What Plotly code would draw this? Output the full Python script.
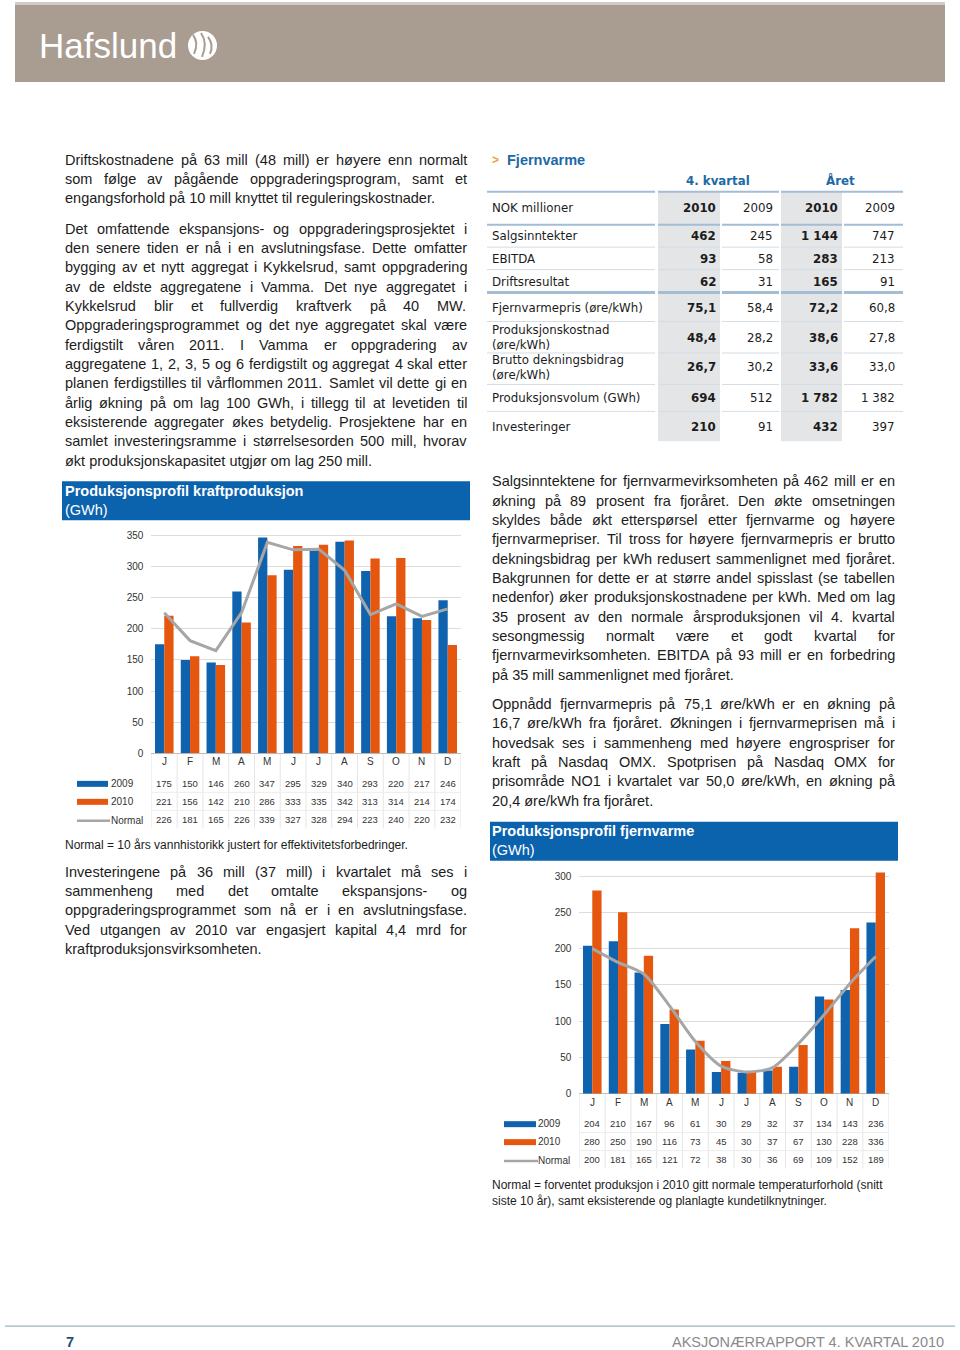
import plotly.graph_objects as go

# ---------------- data ----------------
months = ["J", "F", "M", "A", "M", "J", "J", "A", "S", "O", "N", "D"]
kraft_2009 = [175, 150, 146, 260, 347, 295, 329, 340, 293, 220, 217, 246]
kraft_2010 = [221, 156, 142, 210, 286, 333, 335, 342, 313, 314, 214, 174]
kraft_normal = [226, 181, 165, 226, 339, 327, 328, 294, 223, 240, 220, 232]
fjv_2009 = [204, 210, 167, 96, 61, 30, 29, 32, 37, 134, 143, 236]
fjv_2010 = [280, 250, 190, 116, 73, 45, 30, 37, 67, 130, 228, 336]
fjv_normal = [200, 181, 165, 121, 72, 38, 30, 36, 69, 109, 152, 189]
series_names = ["2009", "2010", "Normal"]

table_head = ["NOK millioner", "2010", "2009", "2010", "2009"]
table_labels = [["Salgsinntekter"], ["EBITDA"], ["Driftsresultat"],
                ["Fjernvarmepris (øre/kWh)"], ["Produksjonskostnad", "(øre/kWh)"],
                ["Brutto dekningsbidrag", "(øre/kWh)"], ["Produksjonsvolum (GWh)"],
                ["Investeringer"]]
q4_2010 = ["462", "93", "62", "75,1", "48,4", "26,7", "694", "210"]
q4_2009 = ["245", "58", "31", "58,4", "28,2", "30,2", "512", "91"]
yr_2010 = ["1 144", "283", "165", "72,2", "38,6", "33,6", "1 782", "432"]
yr_2009 = ["747", "213", "91", "60,8", "27,8", "33,0", "1 382", "397"]

left_p1 = ["Driftskostnadene på 63 mill (48 mill) er høyere enn normalt",
           "som følge av pågående oppgraderingsprogram, samt et",
           "engangsforhold på 10 mill knyttet til reguleringskostnader."]
left_p2 = ["Det omfattende ekspansjons- og oppgraderingsprosjektet i",
           "den senere tiden er nå i en avslutningsfase. Dette omfatter",
           "bygging av et nytt aggregat i Kykkelsrud, samt oppgradering",
           "av de eldste aggregatene i Vamma. Det nye aggregatet i",
           "Kykkelsrud blir et fullverdig kraftverk på 40 MW.",
           "Oppgraderingsprogrammet og det nye aggregatet skal være",
           "ferdigstilt våren 2011. I Vamma er oppgradering av",
           "aggregatene 1, 2, 3, 5 og 6 ferdigstilt og aggregat 4 skal etter",
           "planen ferdigstilles til vårflommen 2011. Samlet vil dette gi en",
           "årlig økning på om lag 100 GWh, i tillegg til at levetiden til",
           "eksisterende aggregater økes betydelig. Prosjektene har en",
           "samlet investeringsramme i størrelsesorden 500 mill, hvorav",
           "økt produksjonskapasitet utgjør om lag 250 mill."]
left_p3 = ["Investeringene på 36 mill (37 mill) i kvartalet må ses i",
           "sammenheng med det omtalte ekspansjons- og",
           "oppgraderingsprogrammet som nå er i en avslutningsfase.",
           "Ved utgangen av 2010 var engasjert kapital 4,4 mrd for",
           "kraftproduksjonsvirksomheten."]
right_p1 = ["Salgsinntektene for fjernvarmevirksomheten på 462 mill er en",
            "økning på 89 prosent fra fjoråret. Den økte omsetningen",
            "skyldes både økt etterspørsel etter fjernvarme og høyere",
            "fjernvarmepriser. Til tross for høyere fjernvarmepris er brutto",
            "dekningsbidrag per kWh redusert sammenlignet med fjoråret.",
            "Bakgrunnen for dette er at større andel spisslast (se tabellen",
            "nedenfor) øker produksjonskostnadene per kWh. Med om lag",
            "35 prosent av den normale årsproduksjonen vil 4. kvartal",
            "sesongmessig normalt være et godt kvartal for",
            "fjernvarmevirksomheten. EBITDA på 93 mill er en forbedring",
            "på 35 mill sammenlignet med fjoråret."]
right_p2 = ["Oppnådd fjernvarmepris på 75,1 øre/kWh er en økning på",
            "16,7 øre/kWh fra fjoråret. Økningen i fjernvarmeprisen må i",
            "hovedsak ses i sammenheng med høyere engrospriser for",
            "kraft på Nasdaq OMX. Spotprisen på Nasdaq OMX for",
            "prisområde NO1 i kvartalet var 50,0 øre/kWh, en økning på",
            "20,4 øre/kWh fra fjoråret."]
caption1 = "Normal = 10 års vannhistorikk justert for effektivitetsforbedringer."
caption2 = ["Normal = forventet produksjon i 2010 gitt normale temperaturforhold (snitt",
            "siste 10 år), samt eksisterende og planlagte kundetilknytninger."]

# ---------------- styling ----------------
W, H = 960, 1350
KY = 1.0045  # small vertical compensation
BODY = "Liberation Sans, Arial, sans-serif"
TAB = "DejaVu Sans, Verdana, sans-serif"
TXT = "#1c1c1c"
BLUE = "#0f63ae"
ORANGE = "#e5560f"
GRAY = "#a6a6a6"
BAND = "#0b62ad"
HEAD_BLUE = "#1b6aa6"


def px(x):
    return x / W


def py(y):
    return 1 - (y * KY) / H


ann = []
shapes = []


def text(x, y, s, size=14.5, color=TXT, family=BODY, anchor="left", bold=False,
         xref="paper"):
    if bold:
        s = "<b>" + s + "</b>"
    ann.append(dict(x=px(x) if xref == "paper" else x, y=py(y), xref=xref, yref="paper",
                    text=s, showarrow=False, xanchor=anchor, yanchor="middle",
                    font=dict(size=size, color=color, family=family),
                    borderpad=0, borderwidth=0))


def rect(x0, y0, x1, y1, color, xref="paper"):
    shapes.append(dict(type="rect", xref=xref, yref="paper",
                       x0=px(x0) if xref == "paper" else x0, x1=px(x1) if xref == "paper" else x1,
                       y0=py(y0), y1=py(y1), fillcolor=color, line=dict(width=0), layer="below"))


def line(x0, y0, x1, y1, color, width=1, xref="paper", layer="above"):
    shapes.append(dict(type="line", xref=xref, yref="paper",
                       x0=px(x0) if xref == "paper" else x0, x1=px(x1) if xref == "paper" else x1,
                       y0=py(y0), y1=py(y1), line=dict(color=color, width=width), layer=layer))


# Arial / Liberation Sans advance widths (per 1000 em)
AW = {" ": 278, ",": 278, ".": 278, "-": 333, "(": 333, ")": 333, "/": 278, ":": 278,
      "=": 584, "å": 556, "ø": 611, "æ": 889, "Å": 667, "Ø": 778, "Æ": 1000}
for c in "0123456789":
    AW[c] = 556
for c, w in zip("ABCDEFGHIJKLMNOPQRSTUVWXYZ",
                [667, 667, 722, 722, 667, 611, 778, 722, 278, 500, 667, 556, 833, 722, 778,
                 667, 778, 722, 667, 611, 722, 667, 944, 667, 667, 611]):
    AW[c] = w
for c, w in zip("abcdefghijklmnopqrstuvwxyz",
                [556, 556, 500, 556, 556, 278, 556, 556, 222, 222, 500, 222, 833, 556, 556,
                 556, 556, 333, 500, 278, 556, 500, 722, 500, 500, 500]):
    AW[c] = w


def twidth(s, size):
    return sum(AW.get(c, 556) for c in s) * size / 1000.0


def paragraph(x0, x1, y0, lh, lines, size=14.5):
    for k, ln in enumerate(lines):
        y = y0 + k * lh
        words = ln.split(" ")
        if k == len(lines) - 1 or len(words) == 1:
            text(x0, y, ln, size)
            continue
        ws = [twidth(w, size) for w in words]
        gap = (x1 - x0 - sum(ws)) / (len(words) - 1)
        x = x0
        for w, wd in zip(words, ws):
            text(x, y, w, size)
            x += wd + gap


# ---------------- header ----------------
rect(15, 0, 945, 3, "#d2cbc4")
rect(15, 3, 945, 80, "#a99c90")
text(39, 44, "Hafslund", size=35, color="white")
shapes.append(dict(type="circle", xref="paper", yref="paper", x0=px(188), x1=px(217),
                   y0=py(29), y1=py(58), fillcolor="white", line=dict(width=0)))
for (ax, ay, bx, by, cx, cy) in [(193, 33, 199, 41, 194, 52), (201, 31, 208, 41, 202, 55),
                                 (208, 35, 214, 43, 210, 52)]:
    path = "M %f %f Q %f %f %f %f" % (px(ax), py(ay), px(bx), py(by), px(cx), py(cy))
    shapes.append(dict(type="path", xref="paper", yref="paper", path=path,
                       line=dict(color="#a99c90", width=2)))

# ---------------- body text ----------------
LH = 19.35
paragraph(65, 467, 158, LH, left_p1)
paragraph(65, 467, 227, LH, left_p2)
paragraph(65, 467, 871, LH, left_p3)
paragraph(492, 895, 480, LH, right_p1)
paragraph(492, 895, 703, LH, right_p2)
text(65, 844, caption1, size=12)
text(492, 1185, caption2[0], size=12)
text(492, 1201, caption2[1], size=12)

# ---------------- Fjernvarme table ----------------
text(492, 158, "&gt;", size=12, color="#e8a33a", bold=True)
text(507, 158, "Fjernvarme", size=14.5, color=HEAD_BLUE, bold=True)
TS = 11.8
text(718, 179, "4. kvartal", size=TS, color=HEAD_BLUE, family=TAB, anchor="center", bold=True)
text(840, 179, "Året", size=TS, color=HEAD_BLUE, family=TAB, anchor="center", bold=True)

rect(658, 190, 720, 440, "#e4e5e7")
rect(781, 190, 842, 440, "#e4e5e7")
cols = [(487, 655), (658, 720), (722, 779), (781, 842), (844, 903)]
for seg in [(487, 655), (658, 779), (781, 903)]:
    line(seg[0], 190, seg[1], 190, "#a3bdd5", 2)
for yy, col, wd in [(223, "#a3bdd5", 2), (245.5, "#d3dce5", 1), (268, "#d3dce5", 1),
                    (291, "#a3bdd5", 3), (320, "#d3dce5", 1), (351.5, "#d3dce5", 1),
                    (383, "#d3dce5", 1), (410, "#d3dce5", 1)]:
    for c0, c1 in cols:
        line(c0, yy, c1, yy, col, wd)

val_right = [716, 773, 838, 895]
text(492, 206, table_head[0], size=TS, family=TAB)
for i, v in enumerate(table_head[1:]):
    text(val_right[i], 206, v, size=TS, family=TAB, anchor="right", bold=(i % 2 == 0))
row_y = [234, 257, 280, 306, 336, 366, 397, 426]
for r, y in enumerate(row_y):
    lab = table_labels[r]
    if len(lab) == 1:
        text(492, y, lab[0], size=TS, family=TAB)
    else:
        text(492, y - 7.5, lab[0], size=TS, family=TAB)
        text(492, y + 7.5, lab[1], size=TS, family=TAB)
    for i, colv in enumerate([q4_2010, q4_2009, yr_2010, yr_2009]):
        text(val_right[i], y, colv[r], size=TS, family=TAB, anchor="right", bold=(i % 2 == 0))

# ---------------- chart title bands ----------------
rect(62, 480, 470, 519, BAND)
text(65, 489.5, "Produksjonsprofil kraftproduksjon", size=14.5, color="white", bold=True)
text(65, 508.5, "(GWh)", size=14.5, color="white")
rect(490, 821, 898, 860, BAND)
text(492, 830, "Produksjonsprofil fjernvarme", size=14.5, color="white", bold=True)
text(492, 849.5, "(GWh)", size=14.5, color="white")

# ---------------- charts ----------------
idx = list(range(12))
fig = go.Figure()
fig.add_trace(go.Bar(x=idx, y=kraft_2009, name=series_names[0], marker=dict(color=BLUE, line=dict(width=0)),
                     xaxis="x", yaxis="y", offsetgroup="a"))
fig.add_trace(go.Bar(x=idx, y=kraft_2010, name=series_names[1], marker=dict(color=ORANGE, line=dict(width=0)),
                     xaxis="x", yaxis="y", offsetgroup="b"))
fig.add_trace(go.Scatter(x=idx, y=kraft_normal, name=series_names[2], mode="lines",
                         line=dict(color=GRAY, width=3), xaxis="x", yaxis="y"))
fig.add_trace(go.Bar(x=idx, y=fjv_2009, name=series_names[0], marker=dict(color=BLUE, line=dict(width=0)),
                     xaxis="x2", yaxis="y2", offsetgroup="a"))
fig.add_trace(go.Bar(x=idx, y=fjv_2010, name=series_names[1], marker=dict(color=ORANGE, line=dict(width=0)),
                     xaxis="x2", yaxis="y2", offsetgroup="b"))
fig.add_trace(go.Scatter(x=idx, y=fjv_normal, name=series_names[2], mode="lines",
                         line=dict(color=GRAY, width=3, shape="spline", smoothing=0.7),
                         xaxis="x2", yaxis="y2"))

# chart geometry (pixels)
c1 = dict(xl=151.4, xr=460.6, y0=752.3, ppu=218 / 350.0, ymax=360, xref="x",
          month_y=761, rows=[782.5, 800.5, 818.5], lab_x=111, sw=(77, 108),
          data=[kraft_2009, kraft_2010, kraft_normal])
c2 = dict(xl=579.4, xr=888.6, y0=1093.3, ppu=218 / 300.0, ymax=305, xref="x2",
          month_y=1102, rows=[1123.3, 1141.3, 1159.3], lab_x=538, sw=(504, 536),
          data=[fjv_2009, fjv_2010, fjv_normal])

axes = {}
for n, c in [("", c1), ("2", c2)]:
    top = c["y0"] - c["ymax"] * c["ppu"]
    axes["xaxis" + n] = dict(domain=[px(c["xl"]), px(c["xr"])], range=[-0.5, 11.5],
                             showticklabels=False, showgrid=False, zeroline=False,
                             showline=False, fixedrange=True,
                             anchor="y" + n)
    axes["yaxis" + n] = dict(domain=[py(c["y0"]), py(top)], range=[0, c["ymax"]],
                             tick0=0, dtick=50, showgrid=True, gridcolor="#dcdcdc", gridwidth=1,
                             zeroline=True, zerolinecolor="#bdbdbd", zerolinewidth=1,
                             showline=False, ticks="", ticklabelstandoff=7,
                             tickfont=dict(size=10, color="#333333", family=BODY),
                             anchor="x" + n)
    # data table below the chart
    for i in range(13):
        line(i - 0.5, c["y0"], i - 0.5, c["rows"][2] + 9, "#e6e6e6", 1, xref=c["xref"], layer="below")
    for yy in [c["rows"][0] + 9, c["rows"][1] + 9]:
        line(-0.5, yy, 11.5, yy, "#ececec", 1, xref=c["xref"], layer="below")
    for i, m in enumerate(months):
        text(i, c["month_y"], m, size=10, color="#333333", anchor="center", xref=c["xref"])
    for r, ser in enumerate(c["data"]):
        for i, v in enumerate(ser):
            text(i, c["rows"][r], str(v), size=9.5, color="#333333", anchor="center", xref=c["xref"])
        text(c["lab_x"], c["rows"][r] + (1 if r == 2 else 0), series_names[r], size=10, color="#333333")
    s0, s1 = c["sw"]
    rect(s0, c["rows"][0] - 2.5, s1, c["rows"][0] + 3.5, BLUE)
    rect(s0, c["rows"][1] - 2.5, s1, c["rows"][1] + 3.5, ORANGE)
    line(s0, c["rows"][2] + 1.5, s1 + 2, c["rows"][2] + 1.5, GRAY, 2.5)

# ---------------- footer ----------------
line(5, 1326, 955, 1326, "#7fa3ae", 1)
text(66, 1342, "7", size=14.5, color="#1f4e79", bold=True)
text(944, 1342, "AKSJONÆRRAPPORT 4. KVARTAL 2010", size=14.5, color="#8a8a8a", anchor="right")

fig.update_layout(width=W, height=H, margin=dict(l=0, r=0, t=0, b=0),
                  paper_bgcolor="white", plot_bgcolor="white", showlegend=False,
                  barmode="group", bargap=0.28, bargroupgap=0,
                  annotations=ann, shapes=shapes, **axes)
fig.write_html("out.html", config={"displayModeBar": False},
               post_script="document.body.style.margin='0px';document.body.style.padding='0px';"
                           "document.body.style.overflow='hidden';")
